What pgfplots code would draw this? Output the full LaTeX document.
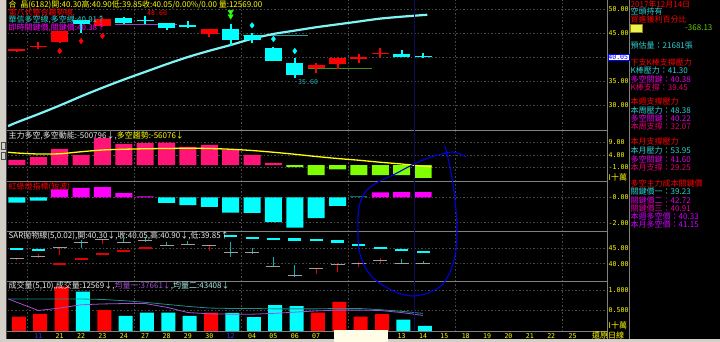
\documentclass[border=0pt]{standalone}
\usepackage{pgfplots}
\pgfplotsset{compat=1.18}
\usepackage{fontspec}
\setmainfont{Noto Sans CJK TC}
\newfontfamily\monofont{DejaVu Sans Mono}
\newcommand\tf{\fontsize{8pt}{8.5pt}\selectfont}
\newcommand\rf{\fontsize{8pt}{8.5pt}\selectfont}
\newcommand\mf{\monofont\fontsize{6.6pt}{7pt}\selectfont}
\definecolor{upred}{HTML}{FF0000}
\definecolor{dncyan}{HTML}{00FFFF}
\definecolor{trendc}{HTML}{80F4F4}
\definecolor{hotpink}{HTML}{FF1478}
\definecolor{limec}{HTML}{80FF00}
\definecolor{magc}{HTML}{FF00FF}
\definecolor{gridc}{HTML}{484848}
\definecolor{sepc}{HTML}{808080}
\definecolor{tealv}{HTML}{2A9A9A}
\definecolor{purv}{HTML}{A040C0}
\definecolor{olivl}{HTML}{3C8C1E}
\definecolor{navyl}{HTML}{0C0C58}
\definecolor{annob}{HTML}{0000E0}
\definecolor{tickyel}{HTML}{FFFF00}
\definecolor{xblue}{HTML}{3030FF}
\definecolor{arrowg}{HTML}{30FF10}
\definecolor{rcyan}{HTML}{30D0D0}
\definecolor{rmag}{HTML}{E000E0}
\definecolor{rpink}{HTML}{E0006E}
\definecolor{rpm}{HTML}{E000A8}
\definecolor{rvio}{HTML}{D000FF}
\definecolor{stripc}{HTML}{D4D0C8}
\definecolor{creamc}{HTML}{FFFDE6}
\definecolor{saredr}{HTML}{E00000}
\definecolor{sarteal}{HTML}{00B4B4}
\definecolor{darkteal}{HTML}{007070}
\definecolor{volteal}{HTML}{1E8C8C}
\definecolor{volpur}{HTML}{A050D0}
\definecolor{whitish}{HTML}{E8E8E8}
\definecolor{lab35}{HTML}{20A8B8}
\pgfplotsset{
  panel/.style={
    scale only axis, width=599pt,
    xmin=-0.42, xmax=27.61,
    axis line style={draw=none},
    major tick length=0pt,
    xtick={0.5,5.5,10.5,15.5,20.5,25.5},
    xticklabels={}, yticklabels={},
    xmajorgrids, ymajorgrids,
    major grid style={draw=gridc, dash pattern=on 1.5pt off 2pt, line width=0.6pt},
    unbounded coords=jump,
  },
}
\begin{document}
\begin{tikzpicture}
\useasboundingbox (0pt,0pt) rectangle (720pt,-342pt);
\fill[black] (0pt,0pt) rectangle (720pt,-342pt);

% ---------------- Panel 1: price ----------------
\begin{axis}[panel, at={(8pt,-130.5pt)}, anchor=south west, height=130.5pt,
  ymin=24.69, ymax=51.875, ytick={30,35,40,45,50}]
\addplot[purv, line width=0.8pt] coordinates {(4.6,46.8)(7.5,46.8)};
\addplot[tealv, line width=0.8pt] coordinates {(10.6,44.6)(13.6,44.6)};
\addplot[olivl, line width=0.8pt] coordinates {(13.6,37.65)(16.6,37.65)};
\addplot[trendc, line width=2.2pt, smooth] coordinates {
 (-0.42,25.6)(0,26.4)(1,28.1)(2,29.9)(3,31.8)(4,33.6)(5,35.3)(6,36.9)(7,38.5)(8,40.0)
 (9,41.3)(10,42.5)(11,43.8)(12,44.8)(13,45.5)(14,46.2)(15,46.8)(16,47.4)(17,48.0)(18,48.4)(19.2,48.8)};
% wicks
\addplot[upred, line width=2pt] coordinates {
 (0,41.1)(0,41.7)(0.5,nan)(1,41.7)(1,43.1)(1.5,nan)(2,42.9)(2,45.5)(2.5,nan)
 (4,46.3)(4,48.1)(4.5,nan)(9,44.2)(9,45.9)(9.5,nan)(14,36.7)(14,38.7)(14.5,nan)
 (15,37.4)(15,40.1)(15.5,nan)(16,38.8)(16,40.6)(16.5,nan)(17,40.1)(17,41.8)};
\addplot[dncyan, line width=2pt] coordinates {
 (3,45.0)(3,47.8)(3.5,nan)(5,46.9)(5,48.3)(5.5,nan)(6,46.9)(6,48.6)(6.5,nan)
 (7,45.6)(7,47.1)(7.5,nan)(8,46.1)(8,47.4)(8.5,nan)(10,42.2)(10,46.9)(10.5,nan)
 (11,43.0)(11,45.1)(11.5,nan)(12,39.1)(12,42.1)(12.5,nan)(13,35.6)(13,39.7)(13.5,nan)
 (18,40.0)(18,41.5)(18.5,nan)(19,39.85)(19,40.90)};
% bodies
\addplot[upred, line width=17pt] coordinates {
 (0,41.2)(0,41.6)(0.5,nan)(1,42.0)(1,42.3)(1.5,nan)(2,43.2)(2,45.4)(2.5,nan)
 (4,46.5)(4,47.9)(4.5,nan)(9,44.7)(9,45.8)(9.5,nan)(14,37.7)(14,38.3)(14.5,nan)
 (15,38.5)(15,39.85)(15.5,nan)(16,39.5)(16,40.0)(16.5,nan)(17,40.6)(17,40.9)};
\addplot[dncyan, line width=17pt] coordinates {
 (3,46.9)(3,47.7)(3.5,nan)(5,47.0)(5,48.2)(5.5,nan)(6,47.4)(6,47.7)(6.5,nan)
 (7,46.0)(7,47.0)(7.5,nan)(8,46.3)(8,46.6)(8.5,nan)(10,43.5)(10,45.8)(10.5,nan)
 (11,43.5)(11,44.6)(11.5,nan)(12,39.2)(12,41.9)(12.5,nan)(13,36.3)(13,38.8)(13.5,nan)
 (18,40.1)(18,40.6)(18.5,nan)(19,40.05)(19,40.30)};
\addplot[only marks, mark=diamond*, mark size=2.8pt, color=upred] coordinates {(2,41.25)(3,43.33)(4,44.4)};
\addplot[only marks, mark=diamond*, mark size=2.8pt, color=dncyan] coordinates {(11,46.6)(12,43.75)(13,41.25)};
\addplot[only marks, mark=triangle*, mark size=3pt, mark options={rotate=180}, color=arrowg] coordinates {(10,49.4)(10,48.5)};
\end{axis}

% ---------------- Panel 2: main force ----------------
\begin{axis}[panel, at={(8pt,-181pt)}, anchor=south west, height=50.5pt,
  ymin=-6.4, ymax=13.8, ytick={-1,4,9}]
\addplot[ybar, bar width=17pt, bar shift=0pt, fill=hotpink, draw=none] coordinates {
 (0,2.0)(1,3.1)(2,6.4)(3,4.0)(4,10.7)(5,8.4)(6,8.7)(7,8.9)(8,7.2)(9,8.0)(10,6.0)(11,4.0)(12,0.9)};
\addplot[ybar, bar width=17pt, bar shift=0pt, fill=limec, draw=none] coordinates {
 (13,-0.8)(14,-4.0)(15,-1.7)(16,-4.0)(17,-4.0)(18,-4.0)(19,-5.1)};
\addplot[tickyel, line width=1.3pt, smooth] coordinates {
 (-0.42,5.1)(0,4.8)(1,4.4)(2,4.5)(3,5.3)(4,6.0)(5,6.3)(6,6.5)(7,6.6)(8,6.7)(9,6.6)(10,6.3)
 (11,5.8)(12,5.1)(13,4.3)(14,3.4)(15,2.6)(16,1.9)(17,1.1)(18,0.4)(19,-0.5)(19.4,-0.7)};
\end{axis}

% ---------------- Panel 3: traffic light ----------------
\begin{axis}[panel, at={(8pt,-231pt)}, anchor=south west, height=50pt,
  ymin=-2.66, ymax=1.31, ytick={-2,0}]
\addplot[ybar, bar width=17pt, bar shift=0pt, fill=dncyan, draw=none] coordinates {
 (0,-0.4)(1,-0.24)(7,-0.43)(8,-0.61)(9,-0.75)(10,-1.2)(11,-1.23)(12,-1.95)(13,-2.4)(14,-1.63)(15,-0.67)};
\addplot[ybar, bar width=17pt, bar shift=0pt, fill=magc, draw=none] coordinates {
 (2,0.64)(3,0.77)(4,0.83)(5,0.35)(6,0.08)(17,0.4)(18,0.43)(19,0.43)};
\addplot[ybar, bar width=17pt, bar shift=0pt, fill=darkteal, draw=none] coordinates {(16,0.12)};
\end{axis}

% ---------------- Panel 4: SAR ----------------
\begin{axis}[panel, at={(8pt,-281pt)}, anchor=south west, height=50pt,
  ymin=34.4, ymax=50.6, ytick={40,45}]
\addplot[saredr, line width=1pt] coordinates {
 (0,41.1)(0,41.7)(0.5,nan)(1,41.7)(1,43.1)(1.5,nan)(2,42.9)(2,45.5)(2.5,nan)
 (4,46.3)(4,48.1)(4.5,nan)(9,44.2)(9,45.9)(9.5,nan)(14,36.7)(14,38.7)(14.5,nan)
 (15,37.4)(15,40.1)(15.5,nan)(16,38.8)(16,40.6)(16.5,nan)(17,40.1)(17,41.8)};
\addplot[sarteal, line width=1pt] coordinates {
 (3,45.0)(3,47.8)(3.5,nan)(5,46.9)(5,48.3)(5.5,nan)(6,46.9)(6,48.6)(6.5,nan)
 (7,45.6)(7,47.1)(7.5,nan)(8,46.1)(8,47.4)(8.5,nan)(10,42.2)(10,46.9)(10.5,nan)
 (11,43.0)(11,45.1)(11.5,nan)(12,39.1)(12,42.1)(12.5,nan)(13,35.6)(13,39.7)(13.5,nan)
 (18,40.0)(18,41.5)(18.5,nan)(19,39.85)(19,40.90)};
\addplot[only marks, mark=-, mark size=7pt, mark options={line width=1pt}, color=gray!75] coordinates {
 (0,41.6)(1,42.3)(2,45.4)(3,46.9)(4,47.9)(5,47.0)(6,47.4)(7,46.0)(8,46.3)(9,45.8)
 (10,43.5)(11,43.5)(12,39.2)(13,36.3)(14,38.3)(15,39.85)(16,40.0)(17,40.9)(18,40.1)(19,40.05)};
\addplot[only marks, mark=-, mark size=6.5pt, mark options={line width=2.3pt}, color=dncyan] coordinates {
 (0,44.7)(1,44.45)(10,49.0)(11,48.25)(12,48.0)(13,47.8)(14,47.65)(15,47.2)(16,46.1)(17,45.2)(18,44.45)(19,43.8)};
\addplot[only marks, mark=-, mark size=6.5pt, mark options={line width=2.3pt}, color=saredr] coordinates {
 (2,40.0)(3,41.6)(4,43.05)(5,44.2)(6,45.2)};
\end{axis}

% ---------------- Panel 5: volume ----------------
\begin{axis}[panel, at={(8pt,-331pt)}, anchor=south west, height=50pt,
  ymin=0, ymax=1.22, ytick={0.5,1},
  xmajorgrids=false,
  xtick={1,...,26},
  xticklabels={\textcolor{xblue}{11},21,22,23,24,27,28,29,30,\textcolor{xblue}{12},04,05,06,07,08,11,12,13,14,15,18,19,20,21,22,25},
  xticklabel style={font=\mf, text=tickyel, inner sep=0pt, anchor=north, yshift=-2pt},
  extra x ticks={0.5,5.5,10.5,15.5,20.5,25.5}, extra x tick labels={},
  extra x tick style={grid=major}]
\addplot[ybar, bar width=14pt, bar shift=1.8pt, fill=upred, draw=none] coordinates {
 (0,0.35)(1,0.42)(2,1.08)(4,0.51)(9,0.45)(14,0.45)(15,0.71)(16,0.35)(17,0.41)};
\addplot[ybar, bar width=14pt, bar shift=1.8pt, fill=dncyan, draw=none] coordinates {
 (3,0.96)(5,0.37)(6,0.45)(7,0.45)(8,0.37)(10,0.44)(11,0.34)(12,0.63)(13,0.61)(18,0.28)(19,0.126)};
\addplot[volteal, line width=0.8pt] coordinates {
 (-0.4,0.78)(0,0.78)(1,0.78)(2,0.78)(3,0.78)(4,0.77)(5,0.74)(6,0.70)(7,0.65)(8,0.60)(9,0.56)
 (10,0.55)(11,0.55)(12,0.54)(13,0.54)(14,0.54)(15,0.55)(16,0.55)(17,0.52)(18,0.48)(19,0.43)};
\addplot[volpur, line width=0.8pt] coordinates {
 (-0.4,0.78)(0,0.70)(1,0.50)(2,0.56)(3,0.64)(4,0.66)(5,0.67)(6,0.67)(7,0.58)(8,0.45)(9,0.42)
 (10,0.41)(11,0.41)(12,0.43)(13,0.46)(14,0.49)(15,0.51)(16,0.51)(17,0.50)(18,0.45)(19,0.38)};
\end{axis}

% ---------------- frame lines ----------------
\foreach \yy in {130.5,181,231,281,331.5}{
  \draw[sepc, line width=0.8pt] (7pt,-\yy pt) -- (607pt,-\yy pt);
}
\draw[sepc, line width=0.8pt] (607pt,0pt) -- (607pt,-338.5pt);
\draw[sepc, line width=0.8pt] (629.5pt,0pt) -- (629.5pt,-338.5pt);
\fill[stripc] (0pt,0pt) rectangle (6.5pt,-342pt);
\draw[gray!60!black, line width=0.5pt] (6.5pt,0pt) -- (6.5pt,-338.5pt);
\draw[gray!60!black, line width=0.4pt] (1pt,-142pt) rectangle (5.5pt,-149pt);
\draw[gray!60!black, line width=0.4pt] (1pt,-152pt) rectangle (5.5pt,-159pt);
\fill[stripc] (0pt,-338.7pt) rectangle (720pt,-342pt);
\fill[creamc] (334pt,-329.5pt) rectangle (388pt,-342pt);

% ---------------- right axis labels ----------------
\begin{scope}[every node/.style={anchor=west, inner sep=0pt, font=\mf, text=tickyel}]
\node at (608.5pt,-9pt) {50.00};
\node at (608.5pt,-33pt) {45.00};
\node at (608.5pt,-81pt) {35.00};
\node at (608.5pt,-105pt) {30.00};
\node at (608.5pt,-142pt) {9.00};
\node at (608.5pt,-155pt) {4.00};
\node at (608.5pt,-167.5pt) {-1.00};
\node[font=\tf] at (608.5pt,-177pt) {I十萬};
\node at (608.5pt,-197.5pt) {-0.00};
\node at (608.5pt,-222.7pt) {-2.00};
\node at (608.5pt,-248.3pt) {45.00};
\node at (608.5pt,-263.7pt) {40.00};
\node at (608.5pt,-290pt) {1.000};
\node at (608.5pt,-310.5pt) {0.500};
\node[font=\tf] at (608.5pt,-325.7pt) {I十萬};
\node[font=\tf] at (592pt,-335pt) {還原日線};
\end{scope}
\node[anchor=west, draw=blue, fill=white, text=blue, inner sep=0.6pt, font=\mf] at (607.5pt,-57pt) {40.05};

% ---------------- left titles ----------------
\begin{scope}[every node/.style={anchor=west, inner sep=0pt, font=\tf}]
\node[text=tickyel] at (8.5pt,-4.5pt) {合\ \ 晶(6182)開:40.30高:40.90低:39.85收:40.05/0.00\%/0.00 量:12569.00};
\node[text=upred] at (8.5pt,-12.5pt) {第八代整合趨勢線,};
\node[text=rcyan] at (8.5pt,-20.2pt) {華信多空線,多空線:40.91↑};
\node[text=magc] at (8.5pt,-27.7pt) {即時關鍵價,關鍵價:40.38↑};
\node[text=upred, font=\mf] at (147pt,-12.8pt) {48.60};
\node[text=lab35, font=\mf] at (298pt,-82pt) {35.60};
\node[text=whitish] at (8.5pt,-135.5pt) {主力多空,多空動能:-500796↓,\textcolor{tickyel}{多空趨勢:-56076↓}};
\node[text=upred] at (8.5pt,-186.5pt) {紅綠燈指標(短波)};
\node[text=whitish] at (8.5pt,-235.5pt) {SAR拋物線(5,0.02),開:40.30↓,收:40.05,高:40.90↓,低:39.85↑};
\node[text=whitish] at (8.5pt,-285.5pt) {成交量(5,10),成交量:12569↓,\textcolor{volpur}{均量一:37661↓},\textcolor{rcyan!40!white}{均量二:43408↓}};
\end{scope}

% ---------------- right info panel ----------------
\begin{scope}[every node/.style={anchor=west, inner sep=0pt, font=\rf}]
\node[text=upred] at (630.5pt,-4pt) {2017年12月14日};
\node[text=rcyan] at (630.5pt,-11pt) {空頭持有};
\node[text=upred] at (630.5pt,-19.5pt) {買進獲利百分比};
\node[text=limec!80!black] at (685pt,-28pt) {-368.13};
\node[text=rcyan] at (630.5pt,-45pt) {預估量：21681張};
\node[text=upred] at (630.5pt,-62pt) {下支K棒支撐壓力};
\node[text=rcyan] at (630.5pt,-70.5pt) {K棒壓力：41.30};
\node[text=rmag] at (630.5pt,-79pt) {多空關鍵：40.38};
\node[text=rpink] at (630.5pt,-87pt) {K棒支撐：39.45};
\node[text=upred] at (630.5pt,-101.5pt) {本週支撐壓力};
\node[text=rcyan] at (630.5pt,-110pt) {本周壓力：48.38};
\node[text=rmag] at (630.5pt,-118.3pt) {多空關鍵：40.22};
\node[text=rpink] at (630.5pt,-126.3pt) {本周支撐：32.07};
\node[text=upred] at (630.5pt,-141.7pt) {本月支撐壓力};
\node[text=rcyan] at (630.5pt,-150.5pt) {本月壓力：53.95};
\node[text=rmag] at (630.5pt,-159pt) {多空關鍵：41.60};
\node[text=rpink] at (630.5pt,-167.3pt) {本月支撐：29.25};
\node[text=upred] at (630.5pt,-183.3pt) {多空主力成本關鍵價};
\node[text=rcyan] at (630.5pt,-191.7pt) {關鍵價一：39.23};
\node[text=rmag] at (630.5pt,-200pt) {關鍵價二：42.72};
\node[text=rpm] at (630.5pt,-208pt) {關鍵價三：40.91};
\node[text=rvio] at (630.5pt,-216.7pt) {本週多空價：40.33};
\node[text=rvio] at (630.5pt,-224.7pt) {本月多空價：41.15};
\end{scope}
\fill[yellow!60!lime!70!white, draw=olive] (630pt,-24.5pt) rectangle (642pt,-32pt);

% ---------------- overlay: today marker and hand-drawn annotation ----------------
\begin{axis}[at={(0pt,0pt)}, anchor=north west, scale only axis, width=720pt, height=342pt,
  xmin=0, xmax=720, ymin=0, ymax=342, y dir=reverse, hide axis, clip=false]
\addplot[navyl, line width=0.7pt] coordinates {(414,0)(414,331)};
\addplot[annob, line width=1.1pt, smooth] coordinates {
 (358,235)(358,215)(361,200)(368,189)(380,181)(395,174)(412,165)(428,158)(442,154)(452,152)(460,154)(466,157)};
\addplot[annob, line width=1.1pt, smooth] coordinates {
 (445,146)(448,158)(452,178)(455,200)(457,225)(456,250)(451,270)(442,285)(428,293)(413,296)(398,293)(384,286)(372,277)(364,265)(359,250)(358,235)};
\end{axis}
\end{tikzpicture}
\end{document}
